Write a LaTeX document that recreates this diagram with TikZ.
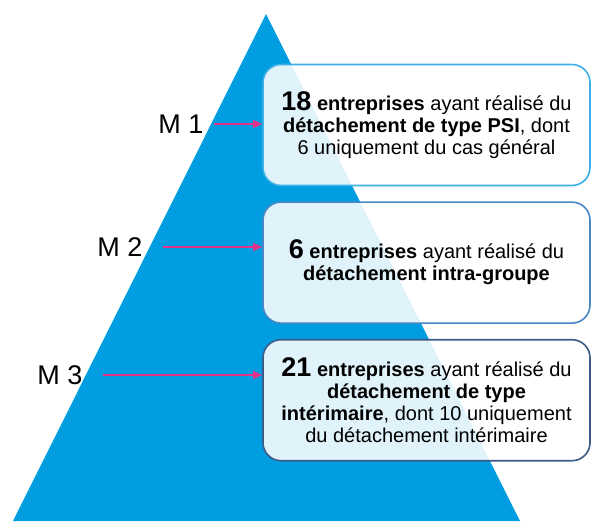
\documentclass[tikz,border=0pt]{standalone}
\usepackage{fontspec}
\setmainfont{Liberation Sans}
\usetikzlibrary{positioning,arrows.meta}
\definecolor{pyrBlue}{HTML}{009EE0}
\definecolor{arrowPink}{HTML}{E0338A}
\definecolor{edgeOne}{HTML}{3BB0E6}
\definecolor{edgeTwo}{HTML}{4A88C5}
\definecolor{edgeThree}{HTML}{3A5B87}
\newcommand{\bigNb}[1]{{\fontsize{27}{22}\selectfont\bfseries #1}}

\begin{document}
\begin{tikzpicture}[x=1pt,y=-1pt,every text node part/.style={align=center}]
\tikzset{myFont/.style={font=\fontsize{20}{22}\selectfont}}
\tikzset{myBox/.style={draw,line width=1.6pt,rounded corners=18pt,fill=white,fill opacity=0.88,text opacity=1,minimum width=327pt,minimum height=121pt,myFont}}
\tikzset{myLabel/.style={font=\fontsize{27}{27}\selectfont,inner sep=0pt}}
\tikzset{myArrow/.style={draw=arrowPink,line width=1.3pt,-{Triangle[length=9pt,width=8pt]}}}

\useasboundingbox (0,0) rectangle (593,521);
\fill[pyrBlue] (266,14) -- (520,521) -- (13,521) -- cycle;

\node[myBox,draw=edgeOne] (box1) at (426.5,125) {\bigNb{18} \textbf{entreprises} ayant réalisé du\\\textbf{détachement de type PSI}, dont\\6 uniquement du cas général};
\node[myBox,draw=edgeTwo,below=15pt of box1] (box2) {\bigNb{6} \textbf{entreprises} ayant réalisé du\\\textbf{détachement intra-groupe}};
\node[myBox,draw=edgeThree,below=15pt of box2] (box3) {\bigNb{21} \textbf{entreprises} ayant réalisé du\\\textbf{détachement de type}\\\textbf{intérimaire}, dont 10 uniquement\\du détachement intérimaire};

\node[myLabel] (m1) at (181,124) {M 1};
\node[myLabel] (m2) at (120,247) {M 2};
\node[myLabel] (m3) at (60,375) {M 3};

\draw[myArrow,shorten <=10pt] (m1.east) -- (m1.east -| box1.west);
\draw[myArrow,shorten <=20pt] (m2.east) -- (m2.east -| box2.west);
\draw[myArrow,shorten <=20pt] (m3.east) -- (m3.east -| box3.west);

\end{tikzpicture}
\end{document}
